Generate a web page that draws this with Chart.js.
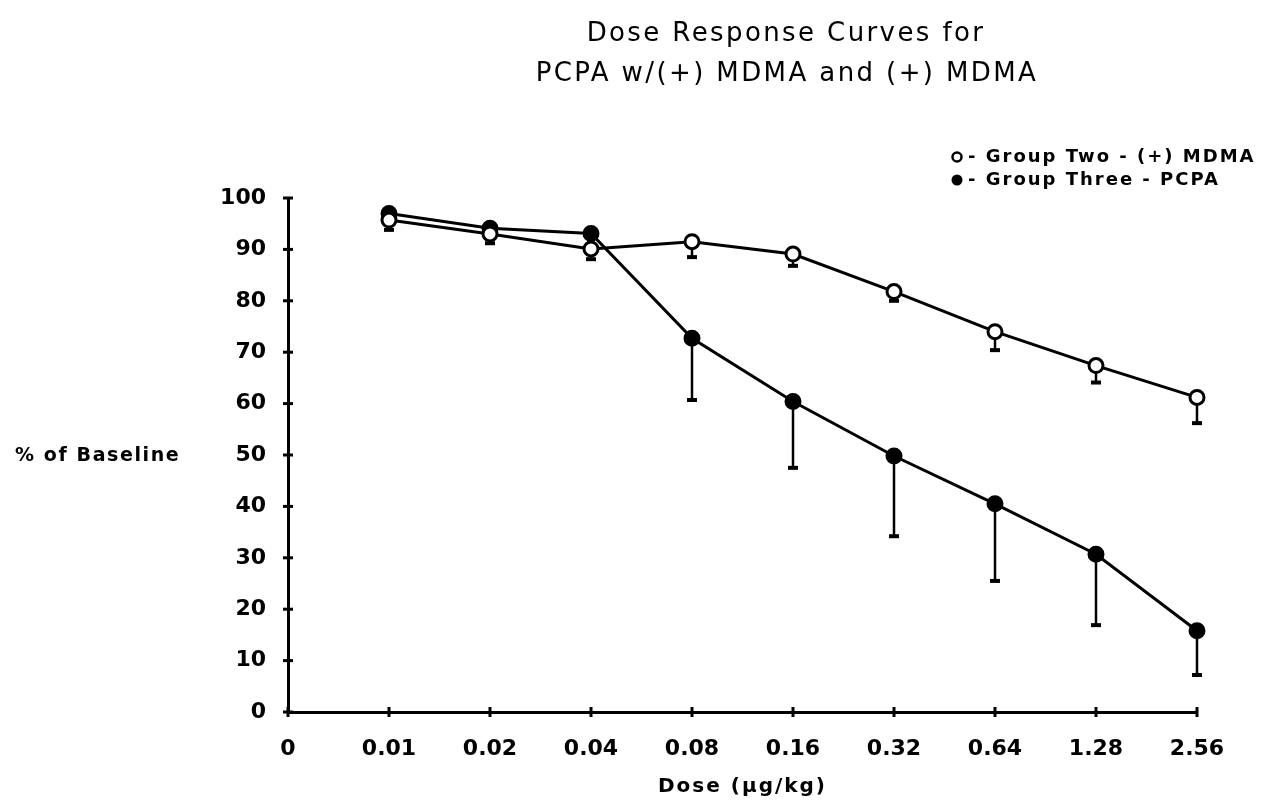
<!DOCTYPE html>
<html>
<head>
<meta charset="utf-8">
<script src="https://cdn.jsdelivr.net/npm/chart.js@4"></script>
<style>
  html, body { margin: 0; padding: 0; background: #fff; }
  #wrap { position: relative; width: 1268px; height: 805px; }
</style>
</head>
<body>
<div id="wrap"><canvas id="c" width="1268" height="805"></canvas></div>
<script>
// ---- data ----
const doseLabels = ['0', '0.01', '0.02', '0.04', '0.08', '0.16', '0.32', '0.64', '1.28', '2.56'];
const groupTwo      = [null, 95.7, 93.0, 90.1, 91.5, 89.1, 81.8, 74.0, 67.4, 61.2];
const groupTwoLow   = [null, 93.8, 91.2, 88.1, 88.5, 86.8, 80.0, 70.4, 64.1, 56.2];
const groupThree    = [null, 97.0, 94.1, 93.1, 72.7, 60.4, 49.8, 40.5, 30.7, 15.8];
const groupThreeLow = [null, null, null, null, 60.7, 47.5, 34.2, 25.5, 16.9, 7.2];
const yTickValues = [0, 10, 20, 30, 40, 50, 60, 70, 80, 90, 100];
const titleLines = ['Dose Response Curves for', 'PCPA w/(+) MDMA and (+) MDMA'];
const legendLabels = ['- Group Two - (+) MDMA', '- Group Three - PCPA'];
const xTitle = 'Dose (\u00b5g/kg)';
const yTitle = '% of Baseline';

const FONT = '"DejaVu Sans", sans-serif';

function spaced(ctx, px) { if ('letterSpacing' in ctx) ctx.letterSpacing = px + 'px'; }

const decorPlugin = {
  id: 'decor',
  beforeDatasetsDraw(chart) {
    const ctx = chart.ctx, x = chart.scales.x, y = chart.scales.y;
    ctx.save();
    ctx.strokeStyle = '#000';
    ctx.fillStyle = '#000';
    const sets = [[groupTwo, groupTwoLow], [groupThree, groupThreeLow]];
    sets.forEach(([vals, lows]) => {
      lows.forEach((lo, i) => {
        if (lo == null || vals[i] == null) return;
        const px = x.getPixelForValue(i);
        const py = y.getPixelForValue(vals[i]);
        const pl = y.getPixelForValue(lo);
        ctx.lineWidth = 2.5;
        ctx.beginPath(); ctx.moveTo(px, py); ctx.lineTo(px, pl); ctx.stroke();
        ctx.lineWidth = 4;
        ctx.beginPath(); ctx.moveTo(px - 5, pl); ctx.lineTo(px + 5, pl); ctx.stroke();
      });
    });
    ctx.restore();
  },
  afterDraw(chart) {
    const ctx = chart.ctx, x = chart.scales.x, y = chart.scales.y, a = chart.chartArea;
    ctx.save();
    ctx.strokeStyle = '#000';
    ctx.fillStyle = '#000';
    ctx.lineWidth = 3;
    // tick crosses
    yTickValues.forEach(v => {
      const py = y.getPixelForValue(v);
      ctx.beginPath(); ctx.moveTo(a.left - 5, py); ctx.lineTo(a.left + 5, py); ctx.stroke();
    });
    doseLabels.forEach((l, i) => {
      const px = x.getPixelForValue(i);
      ctx.beginPath(); ctx.moveTo(px, a.bottom - 5); ctx.lineTo(px, a.bottom + 5); ctx.stroke();
    });
    // title
    ctx.textAlign = 'center';
    ctx.textBaseline = 'middle';
    ctx.font = '26px ' + FONT;
    spaced(ctx, 2.4);
    ctx.fillText(titleLines[0], 786, 34);
    ctx.fillText(titleLines[1], 787, 74);
    // axis titles
    ctx.font = 'bold 20px ' + FONT;
    spaced(ctx, 2);
    ctx.fillText(xTitle, (a.left + a.right) / 2, 787);
    ctx.textAlign = 'left';
    ctx.font = 'bold 19px ' + FONT;
    spaced(ctx, 1.6);
    ctx.fillText(yTitle, 15, y.getPixelForValue(50) + 1);
    // legend
    ctx.font = 'bold 18px ' + FONT;
    spaced(ctx, 2);
    const ly = [157, 180];
    ctx.lineWidth = 2.5;
    ctx.beginPath(); ctx.arc(957, ly[0], 4.5, 0, Math.PI * 2);
    ctx.fillStyle = '#fff'; ctx.fill(); ctx.stroke();
    ctx.fillStyle = '#000';
    ctx.beginPath(); ctx.arc(957, ly[1], 5.5, 0, Math.PI * 2); ctx.fill();
    ctx.fillText(legendLabels[0], 968, ly[0]);
    ctx.fillText(legendLabels[1], 968, ly[1]);
    ctx.restore();
  }
};

new Chart(document.getElementById('c'), {
  type: 'line',
  data: {
    labels: doseLabels,
    datasets: [
      {
        label: 'Group Two - (+) MDMA',
        data: groupTwo,
        borderColor: '#000',
        borderWidth: 3,
        backgroundColor: '#fff',
        pointBackgroundColor: '#fff',
        pointBorderColor: '#000',
        pointBorderWidth: 3,
        pointRadius: 7,
        tension: 0
      },
      {
        label: 'Group Three - PCPA',
        data: groupThree,
        borderColor: '#000',
        borderWidth: 3,
        backgroundColor: '#000',
        pointBackgroundColor: '#000',
        pointBorderColor: '#000',
        pointBorderWidth: 2,
        pointRadius: 7.5,
        tension: 0
      }
    ]
  },
  options: {
    responsive: false,
    animation: false,
    events: [],
    layout: { padding: { left: 0, right: 71, top: 198, bottom: 0 } },
    plugins: { legend: { display: false }, title: { display: false }, tooltip: { enabled: false } },
    scales: {
      x: {
        type: 'category',
        offset: false,
        grid: { display: false, drawTicks: false },
        border: { display: true, color: '#000', width: 3 },
        ticks: {
          color: '#000',
          font: { family: FONT, size: 22, weight: 'bold' },
          padding: 24,
          maxRotation: 0,
          autoSkip: false
        },
        afterFit(scale) { scale.height = 93; }
      },
      y: {
        min: 0,
        max: 100,
        grid: { display: false, drawTicks: false },
        border: { display: true, color: '#000', width: 3 },
        ticks: {
          stepSize: 10,
          color: '#000',
          font: { family: FONT, size: 22, weight: 'bold' },
          padding: 22
        },
        afterFit(scale) { scale.width = 288; }
      }
    }
  },
  plugins: [decorPlugin]
});
</script>
</body>
</html>
